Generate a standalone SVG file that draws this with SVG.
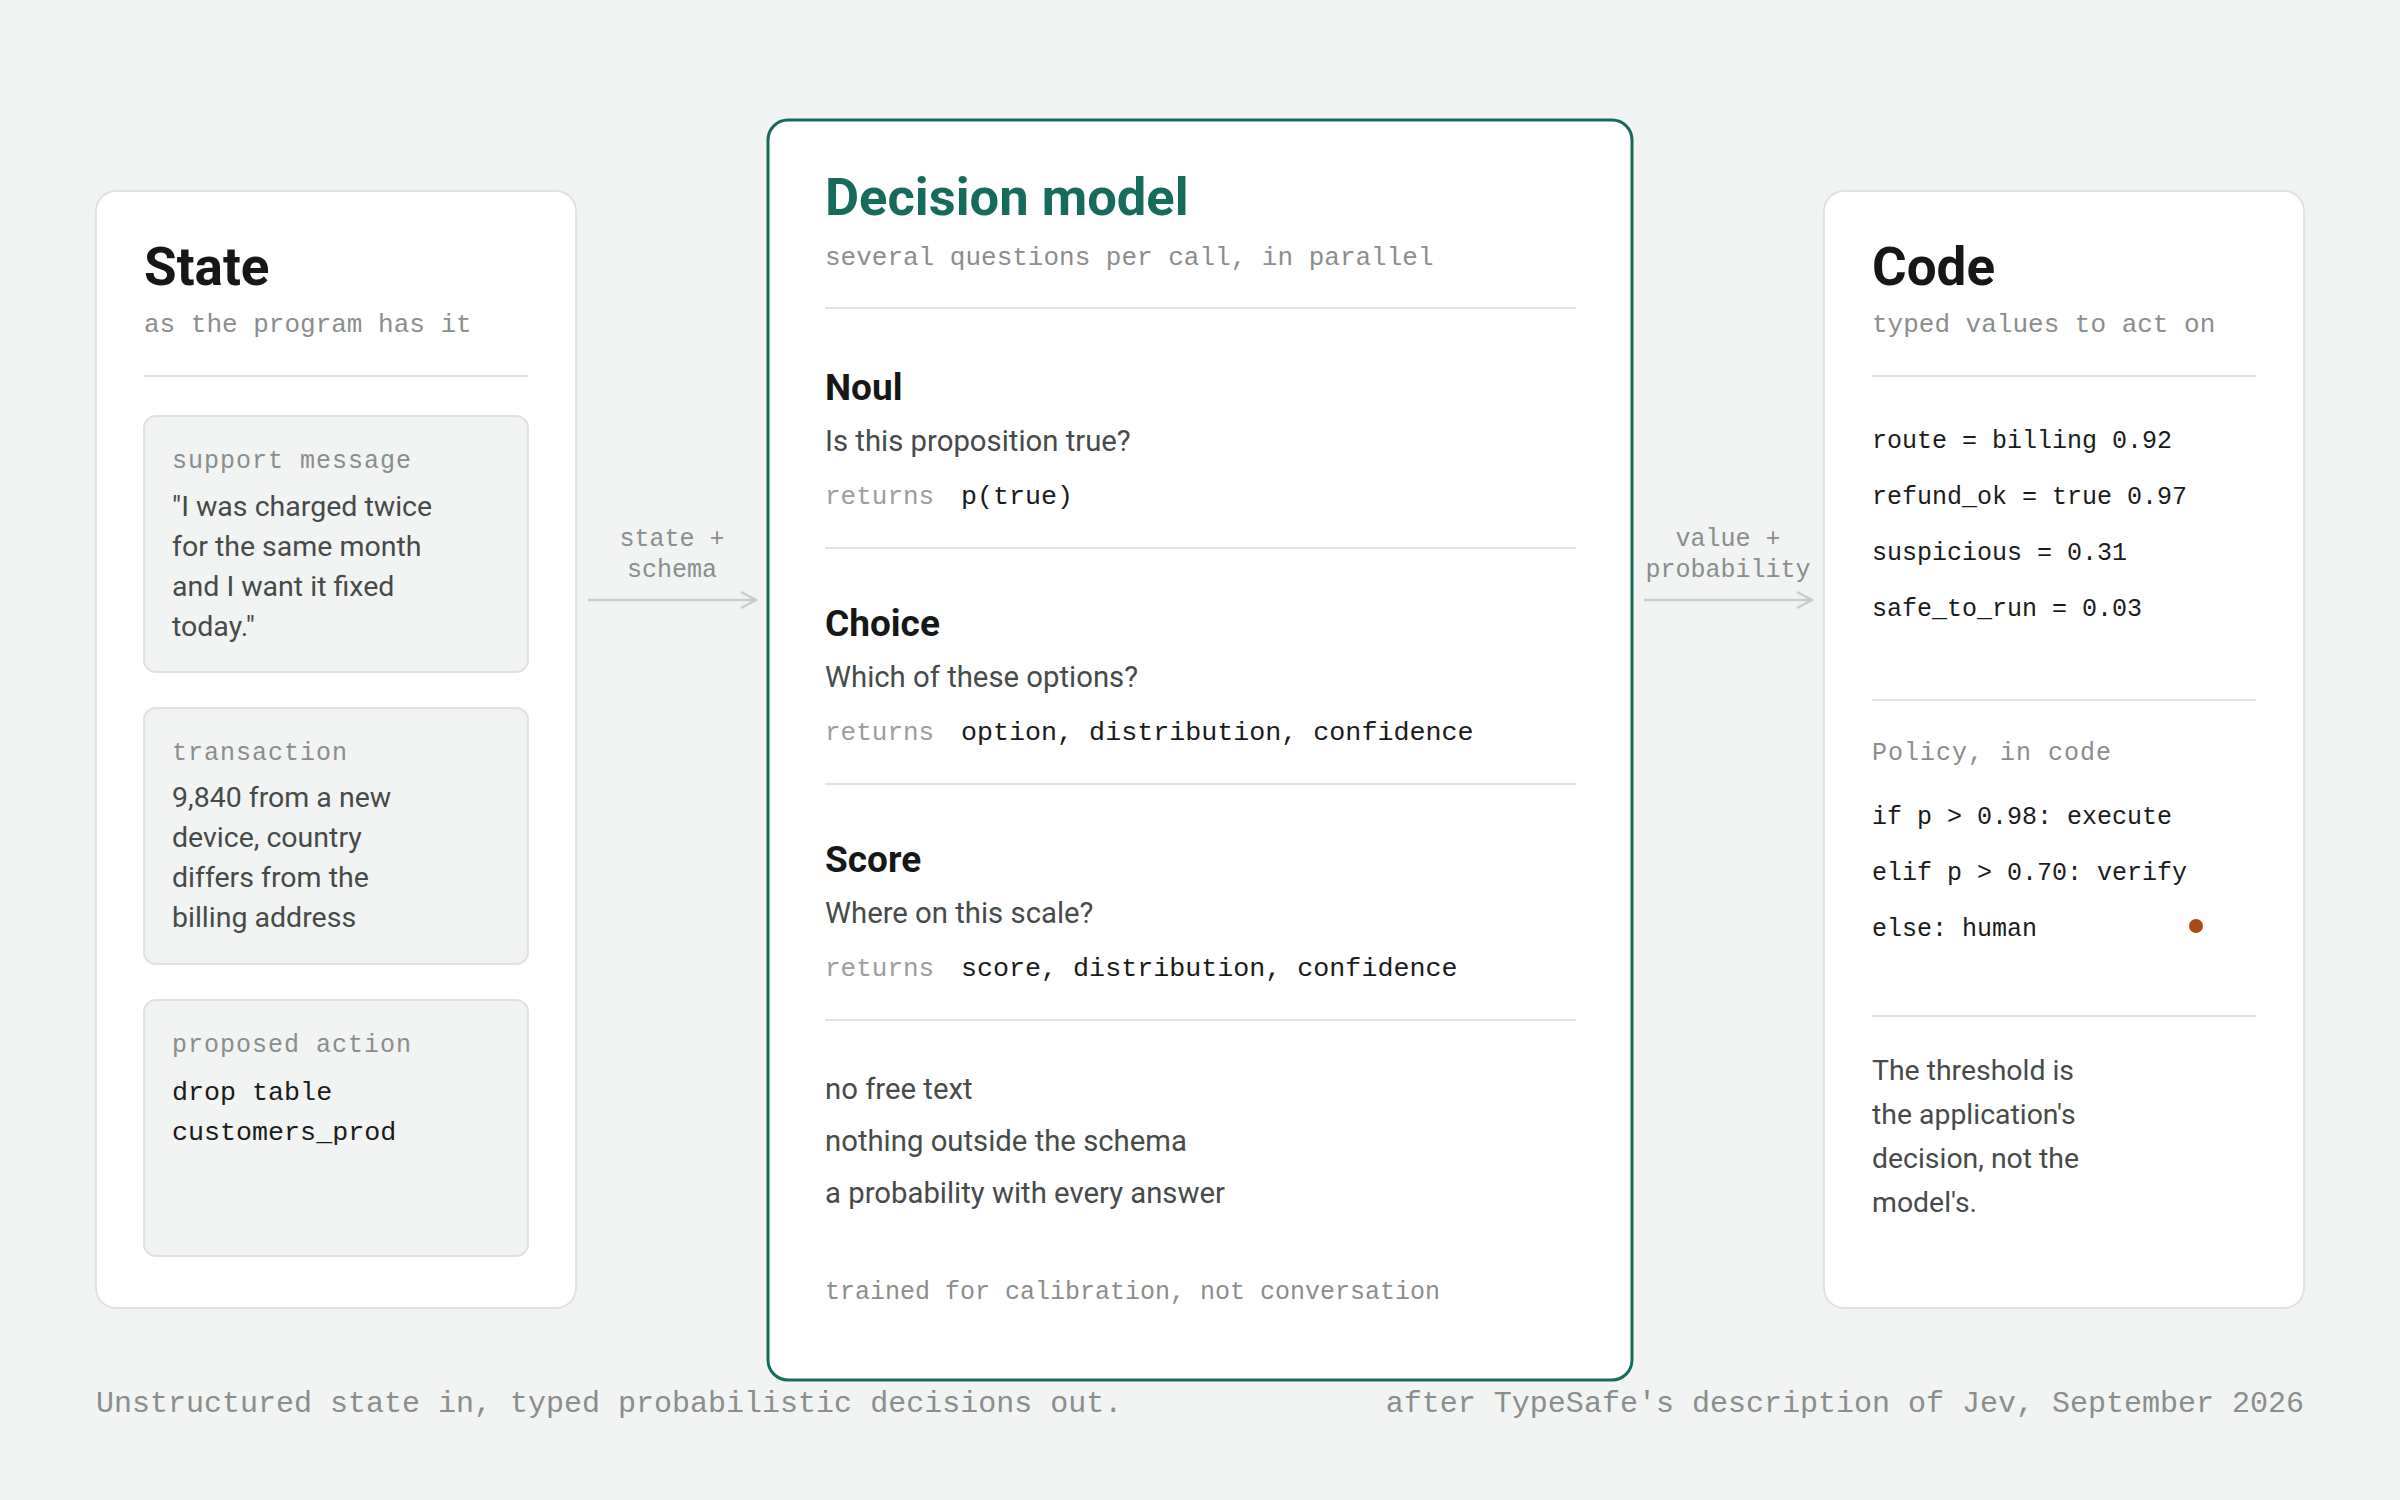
<svg xmlns="http://www.w3.org/2000/svg" width="2400" height="1500" viewBox="0 0 2400 1500">
  <defs>
    <style>
      .bg { fill: #f2f4f3; }
      .panel { fill: #ffffff; stroke: #dfe2e1; stroke-width: 2; }
      .main { fill: #ffffff; stroke: #176b5d; stroke-width: 3; }
      .card { fill: #f2f4f3; stroke: #dfe2e1; stroke-width: 2; }
      .div { stroke: #e0e3e2; stroke-width: 2; }
      .title { font-family: Roboto, "Liberation Sans", sans-serif; font-weight: 700; font-size: 53px; fill: #151817; }
      .mtitle { font-family: Roboto, "Liberation Sans", sans-serif; font-weight: 700; font-size: 52.5px; fill: #176b5d; }
      .head { font-family: Roboto, "Liberation Sans", sans-serif; font-weight: 700; font-size: 37px; fill: #151817; }
      .sub { font-family: "Liberation Mono", "DejaVu Sans Mono", monospace; font-size: 26px; fill: #8a8e8c; }
      .lab { font-family: "Liberation Mono", "DejaVu Sans Mono", monospace; font-size: 25px; letter-spacing: 1px; fill: #8a8e8c; }
      .ret { font-family: "Liberation Mono", "DejaVu Sans Mono", monospace; font-size: 26px; fill: #9a9e9c; }
      .code { font-family: "Liberation Mono", "DejaVu Sans Mono", monospace; font-size: 26.7px; fill: #1a1c1b; }
      .code2 { font-family: "Liberation Mono", "DejaVu Sans Mono", monospace; font-size: 25px; fill: #1a1c1b; }
      .body { font-family: Roboto, "Liberation Sans", sans-serif; font-size: 28.5px; fill: #464b49; }
      .q { font-family: Roboto, "Liberation Sans", sans-serif; font-size: 29.3px; fill: #464b49; }
      .note { font-family: Roboto, "Liberation Sans", sans-serif; font-size: 28.4px; fill: #464b49; }
      .foot { font-family: "Liberation Mono", "DejaVu Sans Mono", monospace; font-size: 25px; fill: #8a8e8c; }
      .clab { font-family: "Liberation Mono", "DejaVu Sans Mono", monospace; font-size: 25px; fill: #8a8e8c; text-anchor: middle; }
      .caption { font-family: "Liberation Mono", "DejaVu Sans Mono", monospace; font-size: 30px; fill: #8a8e8c; }
      .conn { stroke: #c8cccb; stroke-width: 2.5; fill: none; }
    </style>
    <marker id="arrow" markerUnits="userSpaceOnUse" markerWidth="24" markerHeight="24" viewBox="-20 -12 24 24" refX="0" refY="0" orient="auto">
      <path d="M -15 -8 L 0 0 L -15 8" fill="none" stroke="#c8cccb" stroke-width="2.5"/>
    </marker>
  </defs>

  <rect class="bg" x="0" y="0" width="2400" height="1500"/>

  <g id="state">
    <rect class="panel" x="96" y="191" width="480" height="1117" rx="20"/>
    <text class="title" x="144" y="285">State</text>
    <text class="sub" x="144" y="332">as the program has it</text>
    <line class="div" x1="144" y1="376" x2="528" y2="376"/>
    <g id="card-support">
      <rect class="card" x="144" y="416" width="384" height="256" rx="12"/>
      <text class="lab" x="172" y="468">support message</text>
      <text class="body" x="172" y="516">"I was charged twice</text>
      <text class="body" x="172" y="556">for the same month</text>
      <text class="body" x="172" y="596">and I want it fixed</text>
      <text class="body" x="172" y="636">today."</text>
    </g>
    <g id="card-transaction">
      <rect class="card" x="144" y="708" width="384" height="256" rx="12"/>
      <text class="lab" x="172" y="760">transaction</text>
      <text class="body" x="172" y="807">9,840 from a new</text>
      <text class="body" x="172" y="847">device, country</text>
      <text class="body" x="172" y="887">differs from the</text>
      <text class="body" x="172" y="927">billing address</text>
    </g>
    <g id="card-action">
      <rect class="card" x="144" y="1000" width="384" height="256" rx="12"/>
      <text class="lab" x="172" y="1052">proposed action</text>
      <text class="code" x="172" y="1100">drop table</text>
      <text class="code" x="172" y="1140">customers_prod</text>
    </g>
  </g>

  <g id="decision-model">
    <rect class="main" x="768" y="120" width="864" height="1260" rx="20"/>
    <text class="mtitle" x="825" y="215">Decision model</text>
    <text class="sub" x="825" y="265">several questions per call, in parallel</text>
    <line class="div" x1="825" y1="308" x2="1576" y2="308"/>
    <g id="noul">
      <text class="head" x="825" y="400">Noul</text>
      <text class="q" x="825" y="451">Is this proposition true?</text>
      <text class="ret" x="825" y="504">returns</text>
      <text class="code" x="961" y="504">p(true)</text>
    </g>
    <line class="div" x1="825" y1="548" x2="1576" y2="548"/>
    <g id="choice">
      <text class="head" x="825" y="636">Choice</text>
      <text class="q" x="825" y="687">Which of these options?</text>
      <text class="ret" x="825" y="740">returns</text>
      <text class="code" x="961" y="740">option, distribution, confidence</text>
    </g>
    <line class="div" x1="825" y1="784" x2="1576" y2="784"/>
    <g id="score">
      <text class="head" x="825" y="872">Score</text>
      <text class="q" x="825" y="923">Where on this scale?</text>
      <text class="ret" x="825" y="976">returns</text>
      <text class="code" x="961" y="976">score, distribution, confidence</text>
    </g>
    <line class="div" x1="825" y1="1020" x2="1576" y2="1020"/>
    <text class="q" x="825" y="1099">no free text</text>
    <text class="q" x="825" y="1151">nothing outside the schema</text>
    <text class="q" x="825" y="1203">a probability with every answer</text>
    <text class="foot" x="825" y="1299">trained for calibration, not conversation</text>
  </g>

  <g id="code">
    <rect class="panel" x="1824" y="191" width="480" height="1117" rx="20"/>
    <text class="title" x="1872" y="285">Code</text>
    <text class="sub" x="1872" y="332">typed values to act on</text>
    <line class="div" x1="1872" y1="376" x2="2256" y2="376"/>
    <text class="code2" x="1872" y="448">route = billing 0.92</text>
    <text class="code2" x="1872" y="504">refund_ok = true 0.97</text>
    <text class="code2" x="1872" y="560">suspicious = 0.31</text>
    <text class="code2" x="1872" y="616">safe_to_run = 0.03</text>
    <line class="div" x1="1872" y1="700" x2="2256" y2="700"/>
    <text class="lab" x="1872" y="760">Policy, in code</text>
    <text class="code2" x="1872" y="824">if p &gt; 0.98: execute</text>
    <text class="code2" x="1872" y="880">elif p &gt; 0.70: verify</text>
    <text class="code2" x="1872" y="936">else: human</text>
    <circle cx="2196" cy="926" r="7" fill="#a84a12"/>
    <line class="div" x1="1872" y1="1016" x2="2256" y2="1016"/>
    <text class="note" x="1872" y="1080">The threshold is</text>
    <text class="note" x="1872" y="1124">the application's</text>
    <text class="note" x="1872" y="1168">decision, not the</text>
    <text class="note" x="1872" y="1212">model's.</text>
  </g>

  <g id="connectors">
    <line class="conn" x1="588" y1="600" x2="756" y2="600" marker-end="url(#arrow)"/>
    <text class="clab" x="672" y="546">state +</text>
    <text class="clab" x="672" y="577">schema</text>
    <line class="conn" x1="1644" y1="600" x2="1812" y2="600" marker-end="url(#arrow)"/>
    <text class="clab" x="1728" y="546">value +</text>
    <text class="clab" x="1728" y="577">probability</text>
  </g>

  <text class="caption" x="96" y="1412">Unstructured state in, typed probabilistic decisions out.</text>
  <text class="caption" x="2304" y="1412" text-anchor="end">after TypeSafe's description of Jev, September 2026</text>
</svg>
